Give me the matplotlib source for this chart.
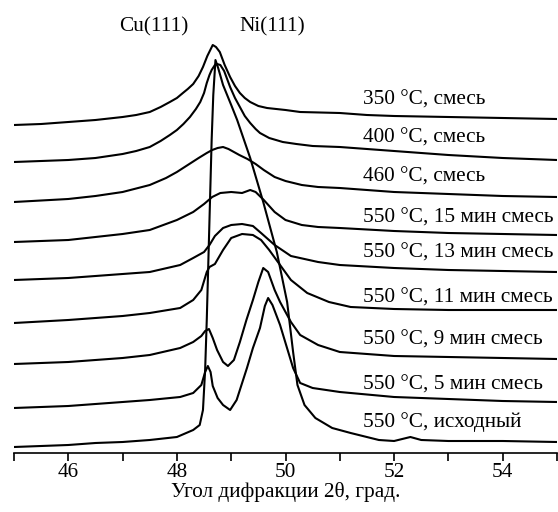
import matplotlib
matplotlib.use("Agg")
import matplotlib.pyplot as plt
from matplotlib.ticker import FixedLocator, FuncFormatter

plt.rcParams['font.family'] = ['Liberation Serif', 'DejaVu Serif']

# ---- data (2theta, intensity in arbitrary stacked units) ----
x_350 = [45.0, 45.5, 46.0, 46.5, 47.0, 47.25, 47.5, 47.7, 47.87, 48.0, 48.11, 48.2, 48.30, 48.40,
         48.48, 48.56, 48.66, 48.72, 48.79, 48.88, 48.98, 49.07, 49.16, 49.25, 49.35, 49.5,
         49.66, 50.0, 50.27, 51.0, 51.5, 52, 53, 54, 55]
y_350 = [328, 329, 331, 333, 336, 338, 341, 346, 351, 355, 360, 364, 369, 377,
         386, 397, 408, 406, 401, 388, 376, 367, 360, 355, 351, 347,
         345, 343, 341, 340, 338, 337, 336, 335, 334]

x_400 = [45.0, 45.5, 46.0, 46.5, 47.0, 47.25, 47.5, 47.7, 47.87, 48.0, 48.12, 48.24, 48.35, 48.43,
         48.5, 48.55, 48.6, 48.64, 48.7, 48.74, 48.8, 48.87, 48.98, 49.07, 49.16, 49.25, 49.35,
         49.45, 49.53, 49.7, 49.95, 50.2, 50.5, 51.0, 52, 53, 54, 55]
y_400 = [291, 292, 293, 295, 299, 302, 306, 312, 318, 323, 329, 336, 344, 351,
         360, 370, 378, 383, 388, 389, 388, 382, 366, 355, 346, 337, 330,
         324, 320, 315, 311, 309, 307, 306, 302, 298, 295, 293]

x_460 = [45.0, 46.0, 46.5, 47.0, 47.5, 47.8, 48.0, 48.2, 48.4, 48.55, 48.65, 48.75, 48.85, 48.95,
         49.05, 49.15, 49.3, 49.45, 49.6, 49.8, 50.0, 50.3, 50.6, 51.0, 52, 53, 54, 55]
y_460 = [251, 254, 257, 261, 268, 275, 281, 288, 295, 300, 303, 305, 306, 304,
         301, 298, 294, 289, 283, 276, 272, 268, 266, 265, 261, 259, 257, 256]

x_15 = [45.0, 46.0, 46.5, 47.0, 47.5, 48.0, 48.3, 48.5, 48.65, 48.8, 49.0, 49.2, 49.35, 49.45,
        49.6, 49.8, 50.0, 50.3, 50.6, 51.0, 52, 53, 54, 55]
y_15 = [211, 213, 216, 219, 223, 233, 241, 249, 256, 260, 261, 260, 263, 261,
        253, 241, 233, 228, 226, 225, 222, 220, 219, 218]

x_13 = [45.0, 46.0, 46.5, 47.0, 47.5, 48.06, 48.3, 48.5, 48.6, 48.7, 48.85, 49.0, 49.2, 49.4,
        49.55, 49.8, 50.1, 50.6, 51.0, 52, 53, 54, 55]
y_13 = [173, 175, 177, 179, 181, 188, 195, 201, 208, 217, 225, 228, 229, 227,
        220, 208, 197, 191, 188, 185, 183, 182, 181]

x_11 = [45.0, 46.0, 46.5, 47.0, 47.5, 48.06, 48.3, 48.45, 48.55, 48.6, 48.7, 48.85, 49.0, 49.2,
        49.4, 49.55, 49.7, 49.9, 50.1, 50.4, 50.8, 51.2, 52, 53, 54, 55]
y_11 = [130, 133, 135, 137, 140, 145, 153, 163, 181, 186, 189, 203, 215, 219,
        218, 213, 203, 188, 173, 160, 151, 146, 144, 143, 143, 143]

x_9 = [45.0, 46.0, 46.5, 47.0, 47.5, 48.06, 48.3, 48.45, 48.52, 48.59, 48.66, 48.74, 48.85, 48.94,
       49.05, 49.16, 49.28, 49.40, 49.5, 49.59, 49.68, 49.8, 49.9, 50.1, 50.27, 50.6, 51.0,
       52, 53, 54, 55]
y_9 = [89, 91, 93, 95, 98, 105, 111, 117, 122, 124, 115, 103, 91, 87,
       93, 111, 133, 153, 171, 185, 181, 163, 151, 131, 118, 108, 101,
       97, 96, 95, 94]

x_5 = [45.0, 46.0, 46.5, 47.0, 47.5, 48.06, 48.3, 48.45, 48.52, 48.57, 48.62, 48.66, 48.75, 48.85,
       48.98, 49.1, 49.29, 49.4, 49.53, 49.62, 49.68, 49.76, 49.9, 50.14, 50.27, 50.5, 51.0,
       52, 53, 54, 55]
y_5 = [45, 47, 49, 51, 53, 56, 60, 68, 81, 87, 81, 67, 55, 48,
       43, 53, 85, 105, 125, 147, 155, 148, 128, 85, 70, 65, 61,
       56, 54, 52, 51]

x_init = [45.0, 46.0, 46.5, 47.0, 47.5, 48.0, 48.3, 48.42, 48.48, 48.52, 48.55, 48.58, 48.61, 48.64,
          48.67, 48.71, 48.76, 48.85, 49.0, 49.11, 49.35, 49.59, 49.84, 50.03, 50.14, 50.22, 50.35,
          50.55, 50.86, 51.2, 51.72, 52.0, 52.3, 52.5, 53, 54, 55]
y_init = [6, 8, 10, 11, 13, 16, 23, 28, 43, 83, 133, 193, 253, 313,
          358, 393, 385, 368, 348, 333, 295, 251, 201, 151, 101, 68, 48,
          35, 25, 20, 13, 12, 16, 13, 12, 12, 11]

labels = ["350 °C, смесь", "400 °C, смесь", "460 °C, смесь",
          "550 °C, 15 мин смесь", "550 °C, 13 мин смесь", "550 °C, 11 мин смесь",
          "550 °C, 9 мин смесь", "550 °C, 5 мин смесь", "550 °C, исходный"]
label_y = [353, 315, 276, 235, 200, 155, 113, 68, 31]
label_x = 51.43

peak_names = ["Cu(111)", "Ni(111)"]
peak_x = [47.58, 49.75]
peak_y = 426

xticks = [45, 46, 47, 48, 49, 50, 51, 52, 53, 54, 55]
xtick_labels = {46: "46", 48: "48", 50: "50", 52: "52", 54: "54"}
xlabel = "Угол дифракции 2θ, град."

# ---- figure ----
fig = plt.figure(figsize=(5.58, 5.12), dpi=100)
ax = fig.add_axes([14/558, 59/512, 543/558, 453/512])

series = [(x_350, y_350), (x_400, y_400), (x_460, y_460), (x_15, y_15), (x_13, y_13),
          (x_11, y_11), (x_9, y_9), (x_5, y_5), (x_init, y_init)]
for xs, ys in series:
    ax.plot(xs, ys, color='black', lw=1.5, solid_joinstyle='round')

FS = 15.3
for t, yy in zip(labels, label_y):
    ax.text(label_x, yy, t, fontsize=FS, ha='left', va='center')

for t, xx in zip(peak_names, peak_x):
    ax.text(xx, peak_y, t, fontsize=FS, ha='center', va='center')

ax.set_xlim(45, 55)
ax.set_ylim(0, 453)
for s in ['left', 'top', 'right']:
    ax.spines[s].set_visible(False)
ax.spines['bottom'].set_linewidth(1.2)
ax.set_yticks([])
ax.xaxis.set_major_locator(FixedLocator(xticks))
ax.xaxis.set_major_formatter(FuncFormatter(lambda v, p: xtick_labels.get(int(round(v)), "")))
ax.tick_params(axis='x', direction='out', length=6, width=1.2, labelsize=FS, pad=1)
ax.set_xlabel(xlabel, fontsize=FS, labelpad=0)

fig.savefig("out.png", dpi=100)
